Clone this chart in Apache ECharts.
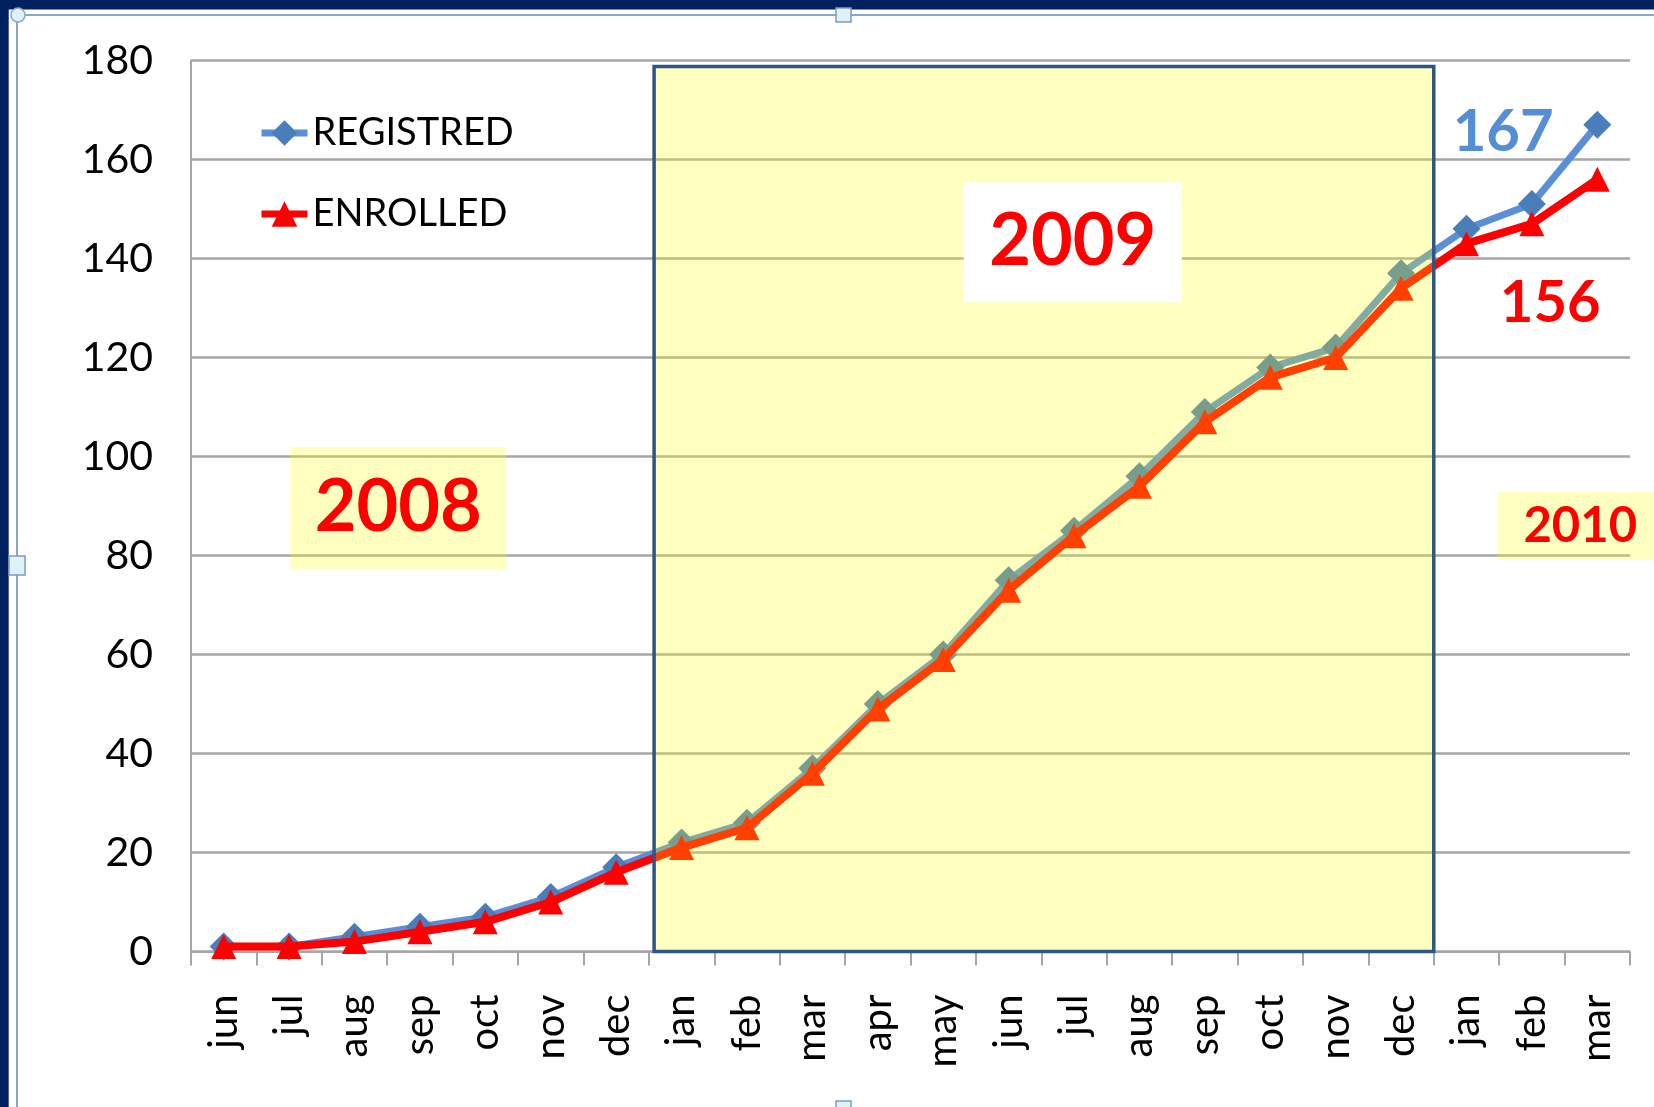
<!DOCTYPE html>
<html>
<head>
<meta charset="utf-8">
<script src="https://cdn.jsdelivr.net/npm/echarts@6/dist/echarts.min.js"></script>
<style>
html,body{margin:0;padding:0;background:#fff;}
#chart{width:1654px;height:1107px;}
</style>
</head>
<body>
<div id="chart"></div>
<script>
// ---- data ----
const months = ['jun','jul','aug','sep','oct','nov','dec',
                'jan','feb','mar','apr','may','jun','jul','aug','sep','oct','nov','dec',
                'jan','feb','mar'];
const registered = [1,1,3,5,7,11,17,22,26,37,50,60,75,85,96,109,118,122,137,146,151,167];
const enrolled   = [1,1,2,4,6,10,16,21,25,36,49,59,73,84,94,107,116,120,134,143,147,156];
const yMin = 0, yMax = 180, yStep = 20;
const seriesNames = ['REGISTRED','ENROLLED'];
// 2009 band: from the start of category 7 (jan) to the end of category 18 (dec)
const bandStart = 7.08, bandEnd = 19, bandTop = 178.8;

// ---- annotations (category-boundary units on a hidden value axis) ----
const FONT = 'Lato';
const annotations = [
  {text:'2008', coord:[3.17, 89.6], fontSize:72, color:'#FF0000', bg:'rgba(255,255,0,0.25)', w:216, h:122},
  {text:'2009', coord:[13.48, 143.3], fontSize:72, color:'#FF0000', bg:'#FFFFFF', w:218, h:120},
  {text:'2010', coord:[21.24, 86.0], fontSize:49, color:'#FF0000', bg:'rgba(255,255,0,0.25)', w:166, h:68},
  {text:String(registered[registered.length-1]), coord:[20.06, 165.5], fontSize:58, color:'#558ED5'},
  {text:String(enrolled[enrolled.length-1]), coord:[20.78, 131.0], fontSize:58, color:'#FF0000'}
];

const chart = echarts.init(document.getElementById('chart'), null, {renderer:'canvas'});

const markPointData = annotations.map(a => {
  const label = {
    show:true, position:'inside', formatter:a.text,
    fontFamily:FONT, fontSize:a.fontSize, fontWeight:'bold', color:a.color,
    align:'center', verticalAlign:'middle'
  };
  if (a.bg) {
    label.backgroundColor = a.bg;
    label.width = a.w; label.height = a.h; label.lineHeight = a.h;
  }
  return {coord:a.coord, label:label};
});

const lineColor = '#A6A6A6';
const option = {
  animation:false,
  backgroundColor:'#FFFFFF',
  textStyle:{fontFamily:FONT},
  grid:{left:191, right:24, top:60.5, bottom:155.5, containLabel:false, outerBoundsMode:'none'},
  legend:{
    orient:'vertical', left:253, top:109,
    itemWidth:46, itemHeight:32, itemGap:43,
    selectedMode:false,
    textStyle:{fontFamily:FONT, fontSize:38, color:'#000'},
    lineStyle:{width:7},
    data:seriesNames
  },
  xAxis:[{
    type:'category', data:months, boundaryGap:true,
    axisLine:{show:true, lineStyle:{color:lineColor, width:2}},
    axisTick:{show:true, length:14, interval:0, lineStyle:{color:lineColor, width:2}},
    axisLabel:{interval:0, rotate:90, fontFamily:FONT, fontSize:40, color:'#000', margin:43},
    splitLine:{show:false}
  },{
    type:'value', min:0, max:months.length, show:false, position:'bottom'
  }],
  yAxis:{
    type:'value', min:yMin, max:yMax, interval:yStep,
    axisLine:{show:true, lineStyle:{color:lineColor, width:2}},
    axisTick:{show:false},
    axisLabel:{fontFamily:FONT, fontSize:41, color:'#000', margin:38},
    splitLine:{show:true, lineStyle:{color:lineColor, width:2.5}}
  },
  series:[
    {
      name:seriesNames[0], type:'line', data:registered, xAxisIndex:0,
      symbol:'diamond', symbolSize:28, showSymbol:true,
      itemStyle:{color:'#4A7EBB'},
      lineStyle:{color:'#5A8FD8', width:7},
      z:2, silent:true
    },
    {
      name:seriesNames[1], type:'line', data:enrolled, xAxisIndex:0,
      symbol:'triangle', symbolSize:25, showSymbol:true,
      itemStyle:{color:'#FF0000'},
      lineStyle:{color:'#FF0000', width:8},
      z:3, silent:true
    },
    {
      name:'band', type:'line', xAxisIndex:1, yAxisIndex:0, data:[],
      silent:true, z:5,
      markArea:{
        silent:true, z:5,
        itemStyle:{color:'rgba(255,255,0,0.25)', borderColor:'#2F5486', borderWidth:3.5},
        label:{show:false},
        data:[[{xAxis:bandStart, yAxis:yMin},{xAxis:bandEnd, yAxis:bandTop}]]
      },
      markPoint:{
        silent:true, z:10,
        symbol:'rect', symbolSize:1,
        itemStyle:{color:'rgba(0,0,0,0)'},
        data:markPointData
      }
    }
  ],
  graphic:[
    {type:'rect', z:100, shape:{x:0,y:0,width:1654,height:9.5}, style:{fill:'#00205F'}},
    {type:'rect', z:100, shape:{x:0,y:0,width:8.7,height:1107}, style:{fill:'#00205F'}},
    {type:'line', z:99, shape:{x1:17,y1:15,x2:1654,y2:15}, style:{stroke:'#8CA5C4', lineWidth:2}},
    {type:'line', z:99, shape:{x1:17,y1:15,x2:17,y2:1107}, style:{stroke:'#8CA5C4', lineWidth:2}},
    {type:'circle', z:101, shape:{cx:18,cy:15,r:7}, style:{fill:'#DDF3F8', stroke:'#8CA5C4', lineWidth:1.5}},
    {type:'rect', z:101, shape:{x:9,y:556,width:16,height:19}, style:{fill:'#DDF3F8', stroke:'#7F9BBF', lineWidth:1.5}},
    {type:'rect', z:101, shape:{x:836,y:8,width:15,height:14}, style:{fill:'#DDF3F8', stroke:'#7F9BBF', lineWidth:1.5}},
    {type:'rect', z:101, shape:{x:836,y:1101,width:15,height:10}, style:{fill:'#DDF3F8', stroke:'#7F9BBF', lineWidth:1.5}}
  ]
};
chart.setOption(option);
</script>
</body>
</html>
